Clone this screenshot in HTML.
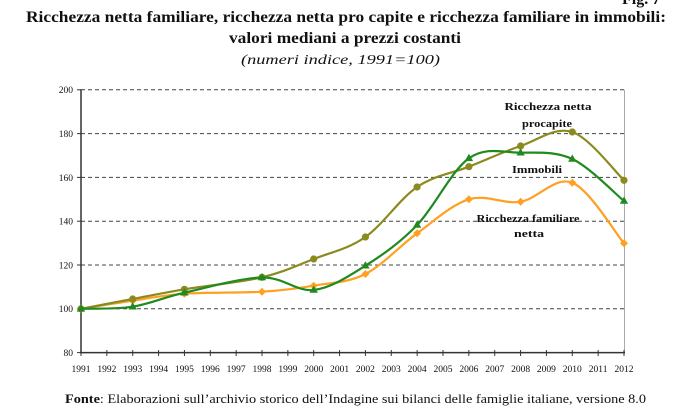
<!DOCTYPE html>
<html>
<head>
<meta charset="utf-8">
<style>
html,body{margin:0;padding:0;background:#fff;}
svg{display:block;}
text{font-family:"Liberation Serif","Times New Roman",serif;fill:#111;}
</style>
</head>
<body>
<svg width="678" height="415" viewBox="0 0 678 415" xmlns="http://www.w3.org/2000/svg">
<rect width="678" height="415" fill="#fff"/>
<!-- Titles -->
<text x="622" y="4" font-size="16" font-weight="bold">Fig. 7</text>
<text x="26" y="22" font-size="16" font-weight="bold" textLength="640" lengthAdjust="spacingAndGlyphs">Ricchezza netta familiare, ricchezza netta pro capite e ricchezza familiare in immobili:</text>
<text x="229" y="43" font-size="16" font-weight="bold" textLength="232" lengthAdjust="spacingAndGlyphs">valori mediani a prezzi costanti</text>
<text x="241" y="64" font-size="14" font-style="italic" textLength="199" lengthAdjust="spacingAndGlyphs">(numeri indice, 1991=100)</text>

<!-- gridlines -->
<g stroke="#444" stroke-width="1" stroke-dasharray="4,3">
<line x1="81" y1="89.8" x2="624" y2="89.8"/>
<line x1="81" y1="133.6" x2="624" y2="133.6"/>
<line x1="81" y1="177.4" x2="624" y2="177.4"/>
<line x1="81" y1="221.2" x2="624" y2="221.2"/>
<line x1="81" y1="265" x2="624" y2="265"/>
<line x1="81" y1="308.8" x2="624" y2="308.8"/>
</g>
<!-- right border -->
<line x1="624.5" y1="89.8" x2="624.5" y2="352.6" stroke="#aaa" stroke-width="1"/>
<!-- axes -->
<line x1="81" y1="89.3" x2="81" y2="353" stroke="#333" stroke-width="1.5"/>
<line x1="80" y1="352.6" x2="625" y2="352.6" stroke="#333" stroke-width="1.5"/>
<g stroke="#333" stroke-width="1">
<line x1="77" y1="89.8" x2="81" y2="89.8"/>
<line x1="77" y1="133.6" x2="81" y2="133.6"/>
<line x1="77" y1="177.4" x2="81" y2="177.4"/>
<line x1="77" y1="221.2" x2="81" y2="221.2"/>
<line x1="77" y1="265" x2="81" y2="265"/>
<line x1="77" y1="308.8" x2="81" y2="308.8"/>
<line x1="77" y1="352.6" x2="81" y2="352.6"/>
</g>
<g stroke="#333" stroke-width="1">
<line x1="81" y1="350" x2="81" y2="356"/>
<line x1="106.86" y1="350" x2="106.86" y2="356"/>
<line x1="132.71" y1="350" x2="132.71" y2="356"/>
<line x1="158.57" y1="350" x2="158.57" y2="356"/>
<line x1="184.43" y1="350" x2="184.43" y2="356"/>
<line x1="210.29" y1="350" x2="210.29" y2="356"/>
<line x1="236.14" y1="350" x2="236.14" y2="356"/>
<line x1="262" y1="350" x2="262" y2="356"/>
<line x1="287.86" y1="350" x2="287.86" y2="356"/>
<line x1="313.71" y1="350" x2="313.71" y2="356"/>
<line x1="339.57" y1="350" x2="339.57" y2="356"/>
<line x1="365.43" y1="350" x2="365.43" y2="356"/>
<line x1="391.29" y1="350" x2="391.29" y2="356"/>
<line x1="417.14" y1="350" x2="417.14" y2="356"/>
<line x1="443" y1="350" x2="443" y2="356"/>
<line x1="468.86" y1="350" x2="468.86" y2="356"/>
<line x1="494.71" y1="350" x2="494.71" y2="356"/>
<line x1="520.57" y1="350" x2="520.57" y2="356"/>
<line x1="546.43" y1="350" x2="546.43" y2="356"/>
<line x1="572.29" y1="350" x2="572.29" y2="356"/>
<line x1="598.14" y1="350" x2="598.14" y2="356"/>
<line x1="624" y1="350" x2="624" y2="356"/>
</g>
<!-- y labels -->
<g font-size="9.5" text-anchor="end">
<text x="73" y="93">200</text>
<text x="73" y="137">180</text>
<text x="73" y="181">160</text>
<text x="73" y="224.5">140</text>
<text x="73" y="268.5">120</text>
<text x="73" y="312">100</text>
<text x="73" y="356">80</text>
</g>
<!-- x labels -->
<g font-size="9.5" text-anchor="middle">
<text x="81" y="372">1991</text>
<text x="106.86" y="372">1992</text>
<text x="132.71" y="372">1993</text>
<text x="158.57" y="372">1994</text>
<text x="184.43" y="372">1995</text>
<text x="210.29" y="372">1996</text>
<text x="236.14" y="372">1997</text>
<text x="262" y="372">1998</text>
<text x="287.86" y="372">1999</text>
<text x="313.71" y="372">2000</text>
<text x="339.57" y="372">2001</text>
<text x="365.43" y="372">2002</text>
<text x="391.29" y="372">2003</text>
<text x="417.14" y="372">2004</text>
<text x="443" y="372">2005</text>
<text x="468.86" y="372">2006</text>
<text x="494.71" y="372">2007</text>
<text x="520.57" y="372">2008</text>
<text x="546.43" y="372">2009</text>
<text x="572.29" y="372">2010</text>
<text x="598.14" y="372">2011</text>
<text x="624" y="372">2012</text>
</g>

<!-- Orange series: Ricchezza familiare netta -->
<path fill="none" stroke="#ffa023" stroke-width="2.2" d="M81,308.8 C89.62,307.45 115.47,303.22 132.7,300.7 C149.93,298.18 162.85,295.2 184.4,293.7 C205.95,292.2 240.45,293.03 262,291.7 C283.55,290.37 296.47,288.65 313.7,285.7 C330.93,282.75 348.17,282.73 365.4,274 C382.63,265.27 399.85,245.75 417.1,233.3 C434.35,220.85 451.65,204.57 468.9,199.3 C486.15,194.03 503.37,204.47 520.6,201.7 C537.83,198.93 555.07,175.77 572.3,182.7 C589.53,189.63 615.38,233.2 624,243.3"/>
<g fill="#ffa023">
<path d="M81,304.8 L85,308.8 L81,312.8 L77,308.8Z"/>
<path d="M132.7,296.7 L136.7,300.7 L132.7,304.7 L128.7,300.7Z"/>
<path d="M184.4,289.7 L188.4,293.7 L184.4,297.7 L180.4,293.7Z"/>
<path d="M262,287.7 L266,291.7 L262,295.7 L258,291.7Z"/>
<path d="M313.7,281.7 L317.7,285.7 L313.7,289.7 L309.7,285.7Z"/>
<path d="M365.4,270 L369.4,274 L365.4,278 L361.4,274Z"/>
<path d="M417.1,229.3 L421.1,233.3 L417.1,237.3 L413.1,233.3Z"/>
<path d="M468.9,195.3 L472.9,199.3 L468.9,203.3 L464.9,199.3Z"/>
<path d="M520.6,197.7 L524.6,201.7 L520.6,205.7 L516.6,201.7Z"/>
<path d="M572.3,178.7 L576.3,182.7 L572.3,186.7 L568.3,182.7Z"/>
<path d="M624,239.3 L628,243.3 L624,247.3 L620,243.3Z"/>
</g>

<!-- Olive series: Ricchezza netta procapite -->
<path fill="none" stroke="#8a8a1e" stroke-width="2.2" d="M81,308.8 C89.62,307.17 115.47,302.25 132.7,299 C149.93,295.75 162.85,292.92 184.4,289.3 C205.95,285.68 240.45,282.35 262,277.3 C283.55,272.25 296.47,265.72 313.7,259 C330.93,252.28 348.17,249 365.4,237 C382.63,225 399.85,198.72 417.1,187 C434.35,175.28 451.65,173.53 468.9,166.7 C486.15,159.87 503.37,151.78 520.6,146 C537.83,140.22 555.07,126.28 572.3,132 C589.53,137.72 615.38,172.25 624,180.3"/>
<g fill="#8a8a1e">
<circle cx="81" cy="308.8" r="3.6"/>
<circle cx="132.7" cy="299" r="3.6"/>
<circle cx="184.4" cy="289.3" r="3.6"/>
<circle cx="262" cy="277.3" r="3.6"/>
<circle cx="313.7" cy="259" r="3.6"/>
<circle cx="365.4" cy="237" r="3.6"/>
<circle cx="417.1" cy="187" r="3.6"/>
<circle cx="468.9" cy="166.7" r="3.6"/>
<circle cx="520.6" cy="146" r="3.6"/>
<circle cx="572.3" cy="132" r="3.6"/>
<circle cx="624" cy="180.3" r="3.6"/>
</g>

<!-- Green series: Immobili -->
<path fill="none" stroke="#1f8a1f" stroke-width="2.2" d="M81,308.8 C89.62,308.45 115.47,309.38 132.7,306.7 C149.93,304.02 162.85,297.57 184.4,292.7 C205.95,287.83 240.45,277.95 262,277.5 C283.55,277.05 296.47,291.97 313.7,290 C330.93,288.03 348.17,276.53 365.4,265.7 C382.63,254.87 399.85,242.9 417.1,225 C434.35,207.1 451.65,170.35 468.9,158.3 C486.15,146.25 503.37,152.58 520.6,152.7 C537.83,152.82 555.07,150.95 572.3,159 C589.53,167.05 615.38,194 624,201"/>
<g fill="#1f8a1f">
<path d="M81,304.3 L85.2,311.6 L76.8,311.6Z"/>
<path d="M132.7,302.2 L136.9,309.5 L128.5,309.5Z"/>
<path d="M184.4,288.2 L188.6,295.5 L180.2,295.5Z"/>
<path d="M262,273 L266.2,280.3 L257.8,280.3Z"/>
<path d="M313.7,285.5 L317.9,292.8 L309.5,292.8Z"/>
<path d="M365.4,261.2 L369.6,268.5 L361.2,268.5Z"/>
<path d="M417.1,220.5 L421.3,227.8 L412.9,227.8Z"/>
<path d="M468.9,153.8 L473.1,161.1 L464.7,161.1Z"/>
<path d="M520.6,148.2 L524.8,155.5 L516.4,155.5Z"/>
<path d="M572.3,154.5 L576.5,161.8 L568.1,161.8Z"/>
<path d="M624,196.5 L628.2,203.8 L619.8,203.8Z"/>
</g>

<!-- series labels -->
<g font-size="11" font-weight="bold" text-anchor="middle">
<text x="548" y="110" textLength="87" lengthAdjust="spacingAndGlyphs">Ricchezza netta</text>
<text x="547" y="127" textLength="50" lengthAdjust="spacingAndGlyphs">procapite</text>
<text x="537" y="173" textLength="50" lengthAdjust="spacingAndGlyphs">Immobili</text>
<text x="528" y="222" textLength="103" lengthAdjust="spacingAndGlyphs">Ricchezza familiare</text>
<text x="529" y="237" textLength="30" lengthAdjust="spacingAndGlyphs">netta</text>
</g>

<!-- footer -->
<text x="65" y="403" font-size="13" textLength="581" lengthAdjust="spacingAndGlyphs"><tspan font-weight="bold">Fonte</tspan>: Elaborazioni sull’archivio storico dell’Indagine sui bilanci delle famiglie italiane, versione 8.0</text>
</svg>
</body>
</html>
